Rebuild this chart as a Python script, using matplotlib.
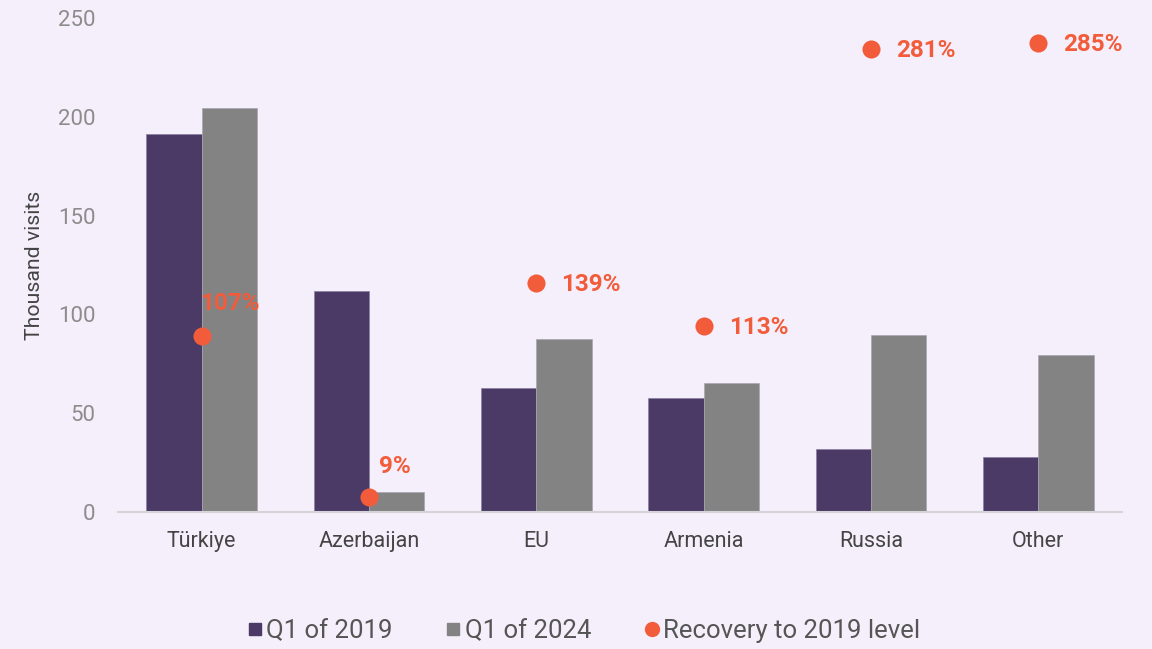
import matplotlib.pyplot as plt
from matplotlib.lines import Line2D
import numpy as np

plt.rcParams['font.family'] = ['Roboto', 'DejaVu Sans']

countries = ["Türkiye", "Azerbaijan", "EU", "Armenia", "Russia", "Other"]
q1_2019 = [191.3, 111.8, 62.8, 57.7, 32.0, 28.0]
q1_2024 = [204.5, 10.1, 87.6, 65.3, 89.8, 79.6]
recovery = [107, 9, 139, 113, 281, 285]

bg = "#F5EFFB"
purple = "#4B3966"
grey = "#838383"
orange = "#F25C3B"

fig = plt.figure(figsize=(11.52, 6.49), dpi=100, facecolor=bg)
ax = fig.add_axes([0.1024, 0.2111, 0.8716, 0.7612])
ax.set_facecolor(bg)

x = np.arange(len(countries))
w = 0.33
ax.bar(x - w / 2, q1_2019, w, color=purple, edgecolor="#8a7fa0", linewidth=0.5, zorder=2)
ax.bar(x + w / 2, q1_2024, w, color=grey, edgecolor="#a8a8b0", linewidth=0.5, zorder=2)

ax.set_xlim(-0.5, len(countries) - 0.5)
ax.set_ylim(0, 250)
ax.set_yticks([0, 50, 100, 150, 200, 250])
ax.set_xticks(x)
ax.set_xticklabels(countries)
ax.tick_params(axis="y", length=0, labelsize=16, labelcolor="#8c8c8c", pad=16)
ax.tick_params(axis="x", length=0, labelsize=15.5, labelcolor="#444444", pad=14)
for s in ["top", "right", "left"]:
    ax.spines[s].set_visible(False)
ax.spines["bottom"].set_color("#d4d4d8")
ax.spines["bottom"].set_linewidth(1.5)
ax.set_ylabel("Thousand visits", fontsize=15.3, color="#444444", labelpad=10)

# recovery on a hidden 0-300 scale
ax2 = ax.twinx()
ax2.set_ylim(0, 300)
ax2.axis("off")
ax2.scatter(x, recovery, s=170, color=orange, zorder=5, linewidths=0)

label_offsets = [(20, 23), (19, 22), (18, -1), (18, -1), (18, -1), (18, -1)]
for i, r in enumerate(recovery):
    dx, dy = label_offsets[i]
    ha = "center" if i < 2 else "left"
    ax2.annotate(f"{r}%", (x[i], r), xytext=(dx, dy),
                 textcoords="offset points", ha=ha, va="center",
                 fontsize=17.5, fontweight="bold", color=orange)

handles = [
    Line2D([], [], marker="s", linestyle="none", color=purple, markersize=9),
    Line2D([], [], marker="s", linestyle="none", color=grey, markersize=9),
    Line2D([], [], marker="o", linestyle="none", color=orange, markersize=10),
]
leg = fig.legend(handles, ["Q1 of 2019", "Q1 of 2024", "Recovery to 2019 level"],
                 loc="center", bbox_to_anchor=(0.506, 0.027), ncol=3, frameon=False,
                 fontsize=18.5, handletextpad=0.1, columnspacing=2.0, handlelength=0.7)
for t in leg.get_texts():
    t.set_color("#555555")

fig.savefig("out.png", dpi=100, facecolor=bg)
